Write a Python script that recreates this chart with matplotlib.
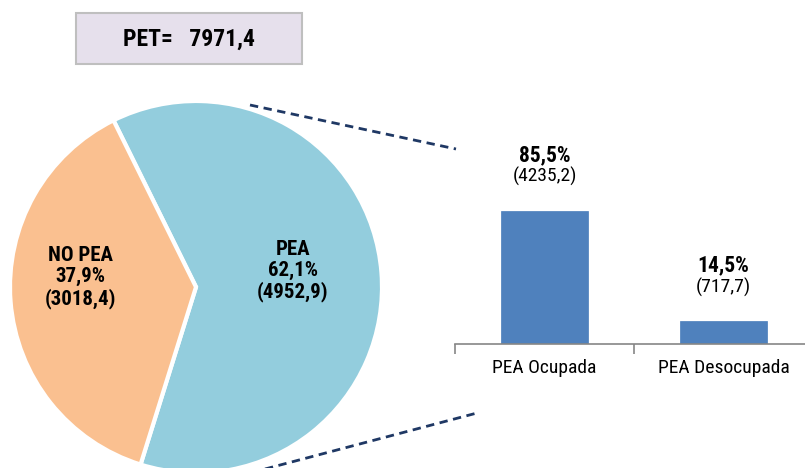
import matplotlib
matplotlib.use("Agg")
import matplotlib.pyplot as plt
from matplotlib.lines import Line2D
from matplotlib.patches import Rectangle

# ---- data ----
pie_labels = ["PEA", "NO PEA"]
pie_values = [4952.9, 3018.4]
pie_pct = ["62,1%", "37,9%"]
pie_abs = ["(4952,9)", "(3018,4)"]

bar_cats = ["PEA Ocupada", "PEA Desocupada"]
bar_pct = [85.5, 14.5]
bar_pct_txt = ["85,5%", "14,5%"]
bar_abs_txt = ["(4235,2)", "(717,7)"]

pet_total = "7971,4"

# ---- style ----
plt.rcParams['font.family'] = ['Liberation Sans Narrow', 'Arial Narrow', 'Roboto Condensed',
                               'Archivo Narrow', 'Liberation Sans', 'DejaVu Sans']
W, H = 805, 468
fig = plt.figure(figsize=(W / 100, H / 100), dpi=100)

def px_rect(x0, y0, x1, y1):
    """pixel box (top-left origin) -> figure fraction rect"""
    return [x0 / W, 1 - y1 / H, (x1 - x0) / W, (y1 - y0) / H]

# ---- pie ----
cx, cy, r = 196, 287, 186
axp = fig.add_axes(px_rect(cx - r, cy - r, cx + r, cy + r))
axp.axis('off')
total = sum(pie_values)
span_nopea = 360 * pie_values[1] / total
start = 184.5 + span_nopea / 2
axp.pie(pie_values, colors=["#93CDDD", "#FAC090"], startangle=start,
        counterclock=True, radius=1,
        wedgeprops=dict(edgecolor='white', linewidth=3))
axp.set_xlim(-1, 1)
axp.set_ylim(-1, 1)
label_pos = [(0.52, 0.086), (-0.62, 0.05)]
for (lx, ly), lab, p, a in zip(label_pos, pie_labels, pie_pct, pie_abs):
    axp.text(lx, ly, f"{lab}\n{p}\n{a}", ha='center', va='center',
             fontsize=15, fontweight='bold', color='black', linespacing=1.12)

# ---- bars ----
axb = fig.add_axes(px_rect(455, 130, 813, 344))
x = list(range(len(bar_cats)))
axb.bar(x, bar_pct, width=0.49, color="#4F81BD", edgecolor="#4A7EBB", linewidth=0.5)
axb.set_xlim(-0.5, 1.5)
axb.set_ylim(0, 137.6)
for s in ['top', 'right', 'left']:
    axb.spines[s].set_visible(False)
axb.spines['bottom'].set_color('#868686')
axb.spines['bottom'].set_linewidth(1.2)
axb.set_yticks([])
axb.set_xticks(x)
axb.set_xticklabels(bar_cats, fontsize=14)
axb.tick_params(axis='x', which='major', length=0, pad=11)
axb.set_xticks([-0.5, 0.5, 1.5], minor=True)
axb.tick_params(axis='x', which='minor', length=7, color='#868686', width=1.2)
for xi, v, pt, at in zip(x, bar_pct, bar_pct_txt, bar_abs_txt):
    axb.text(xi, v + 36, pt, ha='center', va='center', fontsize=15.5, fontweight='bold')
    axb.text(xi, v + 22, at, ha='center', va='center', fontsize=14)

# ---- PET box ----
box = Rectangle((76 / W, 1 - 64 / H), (302 - 76) / W, (64 - 13) / H,
                transform=fig.transFigure, facecolor="#E6E0EC",
                edgecolor="#BFBFBF", linewidth=1.5)
fig.add_artist(box)
fig.text(189 / W, 1 - 39 / H, f"PET=   {pet_total}", ha='center', va='center',
         fontsize=17, fontweight='bold')

# ---- connector dashed lines ----
navy = "#1F3864"
for (x0, y0, x1, y1) in [(250, 105, 456, 149), (265, 469, 477, 413)]:
    fig.add_artist(Line2D([x0 / W, x1 / W], [1 - y0 / H, 1 - y1 / H],
                          transform=fig.transFigure, color=navy,
                          linewidth=2, linestyle=(0, (3, 2))))

fig.savefig("out.png", dpi=100)
